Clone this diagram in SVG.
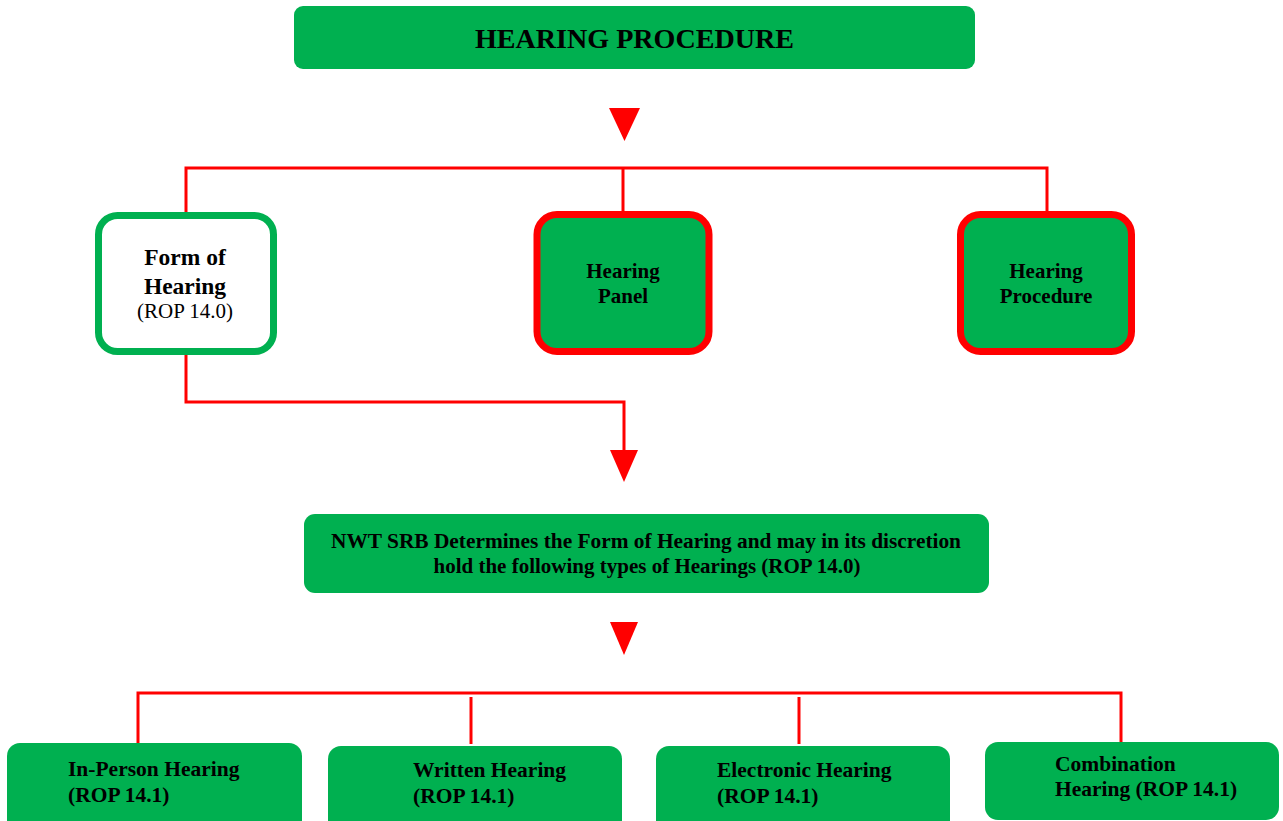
<svg xmlns="http://www.w3.org/2000/svg" width="1283" height="821" viewBox="0 0 1283 821">
<style>
.g{fill:#00B050}
.red{fill:#FF0000}
.ln{stroke:#FF0000;stroke-width:3;fill:none}
.t{font-family:"Liberation Serif","Times New Roman",serif;font-weight:bold;fill:#000}
.r{font-family:"Liberation Serif","Times New Roman",serif;fill:#000}
.b{font-size:21.5px}
</style>
<rect width="1283" height="821" fill="#fff"/>
<g id="connectors">
<polygon class="red" points="609,108 640,108 624.5,141"/>
<polyline class="ln" points="186,214 186,168 1047,168 1047,214"/>
<line class="ln" x1="623" y1="168" x2="623" y2="214"/>
<polyline class="ln" points="186,354 186,402 624,402 624,452"/>
<polygon class="red" points="610,450 638,450 624,482"/>
<polygon class="red" points="610,622 638,622 624,655"/>
<polyline class="ln" points="138,743 138,693 1121,693 1121,742"/>
<line class="ln" x1="471" y1="697" x2="471" y2="744"/>
<line class="ln" x1="799" y1="697" x2="799" y2="744"/>
</g>
<g id="title">
<rect class="g" x="294" y="6" width="681" height="63" rx="9"/>
<text class="t" x="634.5" y="48" font-size="28" text-anchor="middle" textLength="319" lengthAdjust="spacingAndGlyphs">HEARING PROCEDURE</text>
</g>
<g id="form">
<rect x="98.5" y="215.5" width="175" height="136" rx="19" fill="#fff" stroke="#00B050" stroke-width="7"/>
<text class="t" x="185" y="265" font-size="23.5" text-anchor="middle">Form of</text>
<text class="t" x="185" y="294" font-size="23.5" text-anchor="middle">Hearing</text>
<text class="r" x="185" y="318" font-size="21" text-anchor="middle">(ROP 14.0)</text>
</g>
<g id="panel">
<rect class="g" x="537" y="214.5" width="172" height="137" rx="20" stroke="#FF0000" stroke-width="7"/>
<text class="t" x="623" y="278" font-size="21" text-anchor="middle">Hearing</text>
<text class="t" x="623" y="303" font-size="21" text-anchor="middle">Panel</text>
</g>
<g id="procedure">
<rect class="g" x="960.5" y="214.5" width="171" height="137" rx="20" stroke="#FF0000" stroke-width="7"/>
<text class="t" x="1046" y="278" font-size="21" text-anchor="middle">Hearing</text>
<text class="t" x="1046" y="303" font-size="21" text-anchor="middle">Procedure</text>
</g>
<g id="nwt">
<rect class="g" x="304" y="514" width="685" height="79" rx="11"/>
<text class="t" x="646" y="548" font-size="21" text-anchor="middle" textLength="630" lengthAdjust="spacingAndGlyphs">NWT SRB Determines the Form of Hearing and may in its discretion</text>
<text class="t" x="647" y="573" font-size="21" text-anchor="middle">hold the following types of Hearings (ROP 14.0)</text>
</g>
<g id="inperson">
<rect class="g" x="7" y="743" width="295" height="90" rx="13"/>
<text class="t b" x="68" y="776">In-Person Hearing</text>
<text class="t b" x="68" y="802">(ROP 14.1)</text>
</g>
<g id="written">
<rect class="g" x="328" y="746" width="294" height="90" rx="13"/>
<text class="t b" x="413" y="777">Written Hearing</text>
<text class="t b" x="413" y="803">(ROP 14.1)</text>
</g>
<g id="electronic">
<rect class="g" x="656" y="746" width="294" height="90" rx="13"/>
<text class="t b" x="717" y="777">Electronic Hearing</text>
<text class="t b" x="717" y="803">(ROP 14.1)</text>
</g>
<g id="combination">
<rect class="g" x="985" y="742" width="294" height="78" rx="13"/>
<text class="t b" x="1055" y="771">Combination</text>
<text class="t b" x="1055" y="796">Hearing (ROP 14.1)</text>
</g>
</svg>
